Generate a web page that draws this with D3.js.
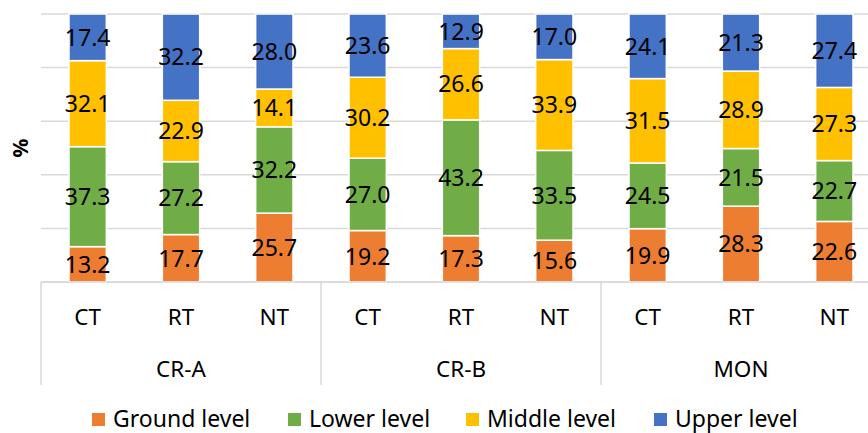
<!DOCTYPE html>
<html>
<head>
<meta charset="utf-8">
<script src="https://cdn.jsdelivr.net/npm/d3@7"></script>
<style>
  html, body { margin: 0; padding: 0; background: #fff; overflow: hidden; }
  svg { display: block; font-family: "Noto Sans", "Open Sans", sans-serif; }
</style>
</head>
<body>
<svg id="chart" width="868" height="433"></svg>
<script>
// Tillage treatments within each site
const treatments = ["CT", "RT", "NT"];
const sites = ["CR-A", "CR-B", "MON"];
const levels = ["Ground level", "Lower level", "Middle level", "Upper level"];
const levelColors = ["#ED7D31", "#70AD47", "#FFC000", "#4472C4"];

// Share (%) of each level, one entry per site/treatment bar in order
const groundLevel = [13.2, 17.7, 25.7, 19.2, 17.3, 15.6, 19.9, 28.3, 22.6];
const lowerLevel  = [37.3, 27.2, 32.2, 27.0, 43.2, 33.5, 24.5, 21.5, 22.7];
const middleLevel = [32.1, 22.9, 14.1, 30.2, 26.6, 33.9, 31.5, 28.9, 27.3];
const upperLevel  = [17.4, 32.2, 28.0, 23.6, 12.9, 17.0, 24.1, 21.3, 27.4];
const yTicks = [0, 20, 40, 60, 80, 100];

const bars = [];
sites.forEach((s, si) => treatments.forEach((t, ti) => {
  const i = si * treatments.length + ti;
  bars.push({ key: i, site: s, treatment: t,
    "Ground level": groundLevel[i], "Lower level": lowerLevel[i],
    "Middle level": middleLevel[i], "Upper level": upperLevel[i] });
}));

const svg = d3.select("#chart");
const plotLeft = 41, plotRight = 881, plotTop = 14, plotBottom = 282;

const x = d3.scaleBand().domain(bars.map(d => d.key)).range([plotLeft, plotRight])
  .paddingInner(0.6).paddingOuter(0.3);
const y = d3.scaleLinear().domain([0, 100]).range([plotBottom, plotTop]);
const color = d3.scaleOrdinal().domain(levels).range(levelColors);

// horizontal gridlines
svg.append("g").selectAll("line").data(yTicks).join("line")
  .attr("x1", plotLeft).attr("x2", 868)
  .attr("y1", d => y(d)).attr("y2", d => y(d))
  .attr("stroke", "#d9d9d9").attr("stroke-width", 1.5);

// stacked bars
const series = d3.stack().keys(levels)(bars);
const layer = svg.append("g").selectAll("g").data(series).join("g")
  .attr("fill", d => color(d.key));
layer.selectAll("rect").data(d => d).join("rect")
  .attr("x", d => x(d.data.key))
  .attr("width", x.bandwidth())
  .attr("y", d => y(d[1]))
  .attr("height", d => y(d[0]) - y(d[1]))
  .attr("stroke", "#fff").attr("stroke-width", 1.5);

// value labels centred in each segment
const labels = svg.append("g").attr("font-size", 23).attr("fill", "#000")
  .attr("text-anchor", "middle");
series.forEach(s => {
  labels.selectAll(null).data(s).join("text")
    .attr("x", d => x(d.data.key) + x.bandwidth() / 2)
    .attr("y", d => (y(d[0]) + y(d[1])) / 2)
    .attr("dy", "0.36em")
    .text(d => d3.format(".1f")(d[1] - d[0]));
});

// category axis: baseline, treatment labels, site labels and separators
const axis = svg.append("g");
axis.append("line").attr("x1", plotLeft).attr("x2", 868)
  .attr("y1", plotBottom).attr("y2", plotBottom)
  .attr("stroke", "#d9d9d9").attr("stroke-width", 1.5);

const step = x.step();
const siteStart = i => plotLeft + i * treatments.length * step;
d3.range(sites.length + 1).forEach(i => {
  axis.append("line")
    .attr("x1", siteStart(i)).attr("x2", siteStart(i))
    .attr("y1", plotBottom).attr("y2", 385)
    .attr("stroke", "#d9d9d9").attr("stroke-width", 1.5);
});

axis.selectAll("text.treat").data(bars).join("text")
  .attr("class", "treat")
  .attr("x", d => x(d.key) + x.bandwidth() / 2)
  .attr("y", 325)
  .attr("text-anchor", "middle").attr("font-size", 22.5).attr("fill", "#000")
  .text(d => d.treatment);

axis.selectAll("text.site").data(sites).join("text")
  .attr("class", "site")
  .attr("x", (d, i) => siteStart(i) + 1.5 * step)
  .attr("y", 377)
  .attr("text-anchor", "middle").attr("font-size", 22.5).attr("fill", "#000")
  .text(d => d);

// y-axis title
svg.append("text")
  .attr("transform", `translate(28,${(plotTop + plotBottom) / 2}) rotate(-90)`)
  .attr("text-anchor", "middle")
  .attr("font-size", 21).attr("font-weight", "bold").attr("fill", "#000")
  .text("%");

// legend
const legendX = [92, 288, 466, 654];
const legend = svg.append("g").selectAll("g").data(levels).join("g")
  .attr("transform", (d, i) => `translate(${legendX[i]},0)`);
legend.append("rect").attr("x", 0).attr("y", 413).attr("width", 13).attr("height", 13)
  .attr("fill", d => color(d));
legend.append("text").attr("x", 21).attr("y", 426.5)
  .attr("font-size", 23).attr("fill", "#000")
  .text(d => d);
</script>
</body>
</html>
